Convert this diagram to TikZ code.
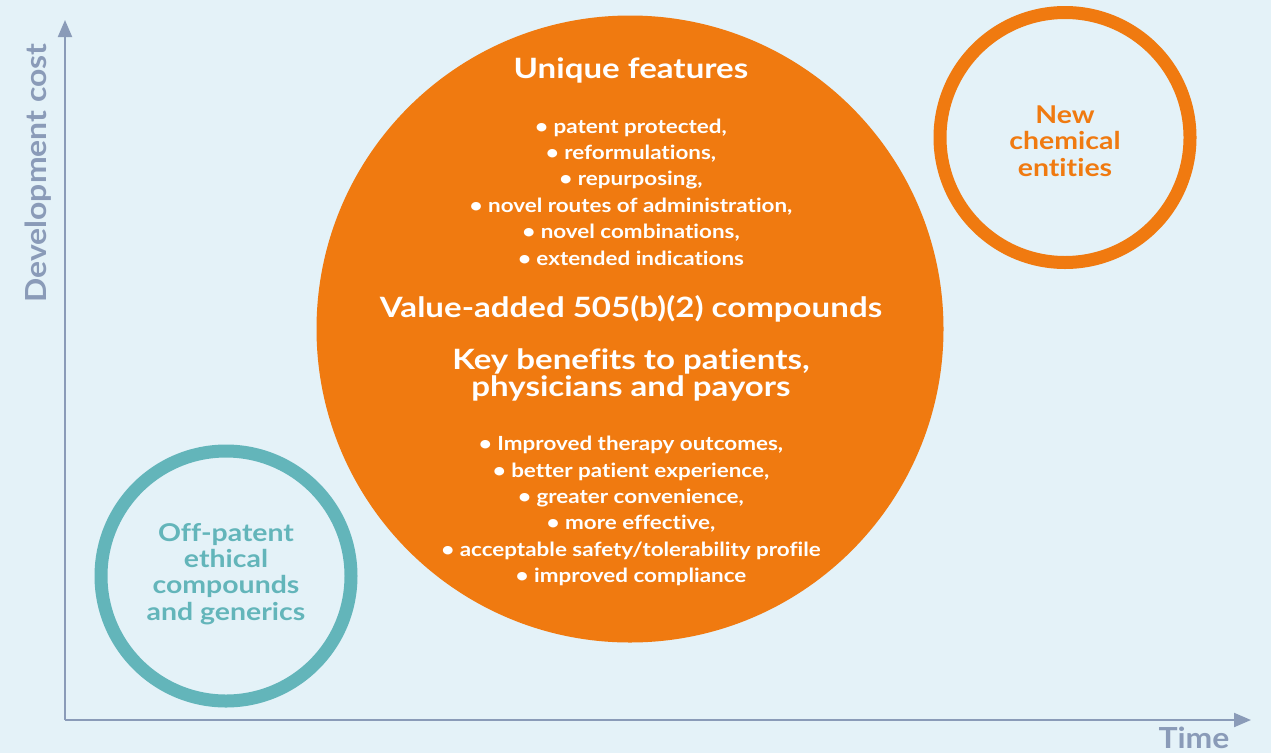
\documentclass[tikz,border=0pt]{standalone}
\usepackage{fontspec}
\setmainfont{Lato}[Ligatures=NoCommon]
\newfontfamily\headfont{Lato}[Ligatures=NoCommon, FakeStretch=1.18]
\newfontfamily\bodyfont{Lato}[Ligatures=NoCommon, FakeStretch=1.15]
\newfontfamily\ringfont{Lato}[Ligatures=NoCommon, FakeStretch=1.16]
\newfontfamily\axfont{Lato}[Ligatures=NoCommon, FakeStretch=1.10]
\usetikzlibrary{arrows.meta}
\definecolor{bg}{HTML}{E4F2F8}
\definecolor{orng}{HTML}{F07A10}
\definecolor{teal}{HTML}{63B5BA}
\definecolor{axisc}{HTML}{8A9BB8}
\tikzset{
  axisline/.style={draw=axisc, line width=2pt, -{Triangle[length=17pt,width=14pt]}},
  axislabel/.style={text=axisc, font=\axfont\bfseries\fontsize{29}{32}\selectfont, inner sep=0pt},
  ring/.style={circle, line width=13pt, inner sep=0pt},
  head/.style={text=white, align=center, inner sep=0pt, font=\headfont\bfseries\fontsize{28}{27}\selectfont},
  bullets/.style={text=white, align=center, inner sep=0pt, font=\bodyfont\bfseries\fontsize{19.5}{26.4}\selectfont},
  ringtext/.style={align=center, inner sep=0pt, font=\ringfont\bfseries\fontsize{24.5}{26.3}\selectfont},
}
\begin{document}
\begin{tikzpicture}[x=1pt,y=-1pt]
\fill[bg] (0,0) rectangle (1271,753);
\useasboundingbox (0,0) rectangle (1271,753);
% axes
\coordinate (O) at (65,720);
\coordinate (ytip) at (65,20);
\coordinate (xtip) at (1251,720);
\draw[axisline] (O) -- (ytip);
\draw[axisline] (O) -- (xtip);
\node[axislabel, rotate=90] (ylab) at (38,173) {Development cost};
\node[axislabel] (xlab) at (1194,738) {Time};
% circles
\node[circle, fill=orng, minimum size=627pt, inner sep=0pt] (big) at (630,329) {};
\node[ring, draw=orng, minimum size=250pt] (nce) at (1065,137.5) {};
\node[ring, draw=teal, minimum size=250pt] (gen) at (226,576) {};
% texts
\node[head] (uf) at (631,70) {Unique features};
\node[bullets] (ufl) at (631,192) {\textbullet\ patent protected,\\ \textbullet\ reformulations,\\ \textbullet\ repurposing,\\ \textbullet\ novel routes of administration,\\ \textbullet\ novel combinations,\\ \textbullet\ extended indications};
\node[head] (va) at (631,309) {Value-added 505(b)(2) compounds};
\node[head] (kb) at (631,375) {Key benefits to patients,\\ physicians and payors};
\node[bullets] (kbl) at (631,511) {\textbullet\ Improved therapy outcomes,\\ \textbullet\ better patient experience,\\ \textbullet\ greater convenience,\\ \textbullet\ more effective,\\ \textbullet\ acceptable safety/tolerability profile\\ \textbullet\ improved compliance};
\node[ringtext, text=orng] (ncet) at (1065,141) {New\\ chemical\\ entities};
\node[ringtext, text=teal] (gent) at (226,574) {Off-patent\\ ethical\\ compounds\\ and generics};
\end{tikzpicture}
\end{document}
